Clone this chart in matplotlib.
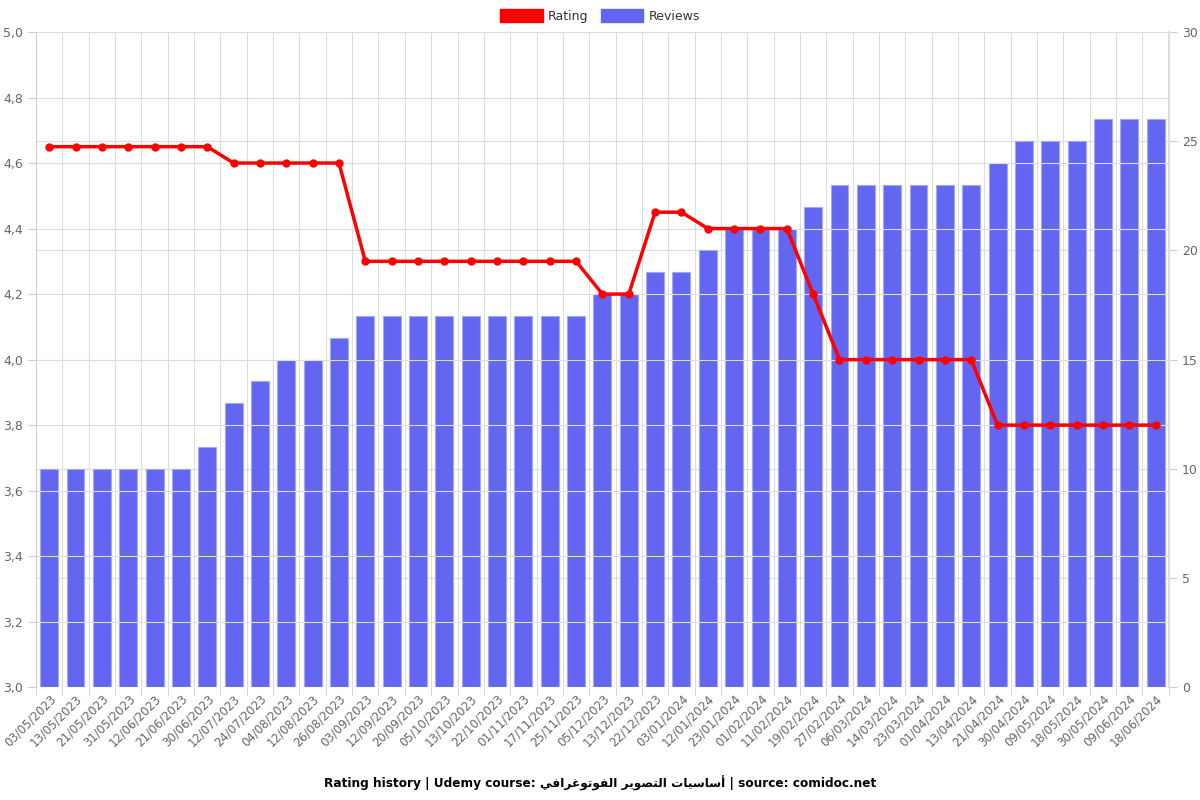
import matplotlib
matplotlib.use("Agg")
from matplotlib import pyplot as plt
from matplotlib.patches import Patch
from matplotlib.ticker import FuncFormatter, MultipleLocator
from matplotlib.transforms import ScaledTranslation

# data
dates = ["03/05/2023", "13/05/2023", "21/05/2023", "31/05/2023", "12/06/2023",
         "21/06/2023", "30/06/2023", "12/07/2023", "24/07/2023", "04/08/2023",
         "12/08/2023", "26/08/2023", "03/09/2023", "12/09/2023", "20/09/2023",
         "05/10/2023", "13/10/2023", "22/10/2023", "01/11/2023", "17/11/2023",
         "25/11/2023", "05/12/2023", "13/12/2023", "22/12/2023", "03/01/2024",
         "12/01/2024", "23/01/2024", "01/02/2024", "11/02/2024", "19/02/2024",
         "27/02/2024", "06/03/2024", "14/03/2024", "23/03/2024", "01/04/2024",
         "13/04/2024", "21/04/2024", "30/04/2024", "09/05/2024", "18/05/2024",
         "30/05/2024", "09/06/2024", "18/06/2024"]
reviews = [10, 10, 10, 10, 10, 10, 11, 13, 14, 15, 15, 16, 17, 17, 17, 17, 17,
           17, 17, 17, 17, 18, 18, 19, 19, 20, 21, 21, 21, 22, 23, 23, 23, 23,
           23, 23, 24, 25, 25, 25, 26, 26, 26]
rating = [4.65, 4.65, 4.65, 4.65, 4.65, 4.65, 4.65, 4.6, 4.6, 4.6, 4.6, 4.6,
          4.3, 4.3, 4.3, 4.3, 4.3, 4.3, 4.3, 4.3, 4.3, 4.2, 4.2, 4.45, 4.45,
          4.4, 4.4, 4.4, 4.4, 4.2, 4.0, 4.0, 4.0, 4.0, 4.0, 4.0, 3.8, 3.8, 3.8,
          3.8, 3.8, 3.8, 3.8]

course = "أساسيات التصوير الفوتوغرافي"
# presentation forms, in visual (left to right) order, since matplotlib does no shaping
course_shaped = ("\uFE83\uFEB3\uFE8E\uFEB3\uFEF4\uFE8E\uFE95 "
                 "\uFE8D\uFEDF\uFE98\uFEBC\uFEEE\uFEF3\uFEAE "
                 "\uFE8D\uFEDF\uFED4\uFEEE\uFE97\uFEEE\uFECF\uFEAE\uFE8D\uFED3\uFEF2")[::-1]

bar_color = "#6366F1"
line_color = "#FF0000"
grid_color = "#DDDDDD"
text_color = "#666666"

fig = plt.figure(figsize=(12, 8), dpi=100)
ax = fig.add_axes([0.03, 0.141, 0.944, 0.819])
ax2 = ax.twinx()

x = list(range(len(dates)))
ax2.bar(x, reviews, width=0.68, color=bar_color, edgecolor="#A5A7F7",
        linewidth=0.8, zorder=2)
ax.plot(x, rating, color=line_color, linewidth=2.5, marker="o",
        markersize=5, zorder=3)

# line above the bars
ax.set_zorder(ax2.get_zorder() + 1)
ax.patch.set_visible(False)

ax.set_xlim(-0.5, len(dates) - 0.5)
ax.set_ylim(3.0, 5.0)
ax2.set_ylim(0, 30)
ax.yaxis.set_major_locator(MultipleLocator(0.2))
ax.yaxis.set_major_formatter(FuncFormatter(lambda v, p: f"{v:.1f}".replace(".", ",")))
ax2.yaxis.set_major_locator(MultipleLocator(5))

ax.set_xticks(x)
ax.set_xticklabels(dates, rotation=45, ha="right", va="top", rotation_mode="anchor")
shift = ScaledTranslation(9 / 100, -4 / 100, fig.dpi_scale_trans)
for lbl in ax.get_xticklabels():
    lbl.set_transform(lbl.get_transform() + shift)

# vertical grid between categories
ax.set_xticks([i - 0.5 for i in range(len(dates) + 1)], minor=True)
ax.grid(which="minor", axis="x", color=grid_color, linewidth=0.8)
ax.grid(which="major", axis="y", color=grid_color, linewidth=0.8)
ax2.grid(which="major", axis="y", color=grid_color, linewidth=0.8)
ax.set_axisbelow(True)
ax2.set_axisbelow(True)

for a in (ax, ax2):
    a.tick_params(axis="both", which="both", colors="#CCCCCC", labelcolor=text_color,
                  labelsize=9, length=6)
    a.tick_params(axis="x", which="major", length=0, labelsize=8.5)
    for s in a.spines.values():
        s.set_visible(False)
ax.spines["left"].set_visible(True)
ax.spines["left"].set_color("#CCCCCC")
ax2.spines["right"].set_visible(True)
ax2.spines["right"].set_color("#DDDDDD")
ax2.spines["right"].set_linewidth(1.5)

handles = [Patch(color=line_color, label="Rating"),
           Patch(color=bar_color, label="Reviews")]
fig.legend(handles=handles, loc="center", bbox_to_anchor=(0.5, 0.98), ncol=2,
           frameon=False, fontsize=9, handlelength=3.4, handleheight=1.2,
           columnspacing=1.0, handletextpad=0.4, labelcolor="#333333")

fig.text(0.5, 0.021,
         f"Rating history | Udemy course: {course_shaped} | source: comidoc.net",
         ha="center", va="center", fontsize=8.7, fontweight="bold",
         family=["DejaVu Sans"], color="#000000")

fig.savefig("out.png", dpi=100)
